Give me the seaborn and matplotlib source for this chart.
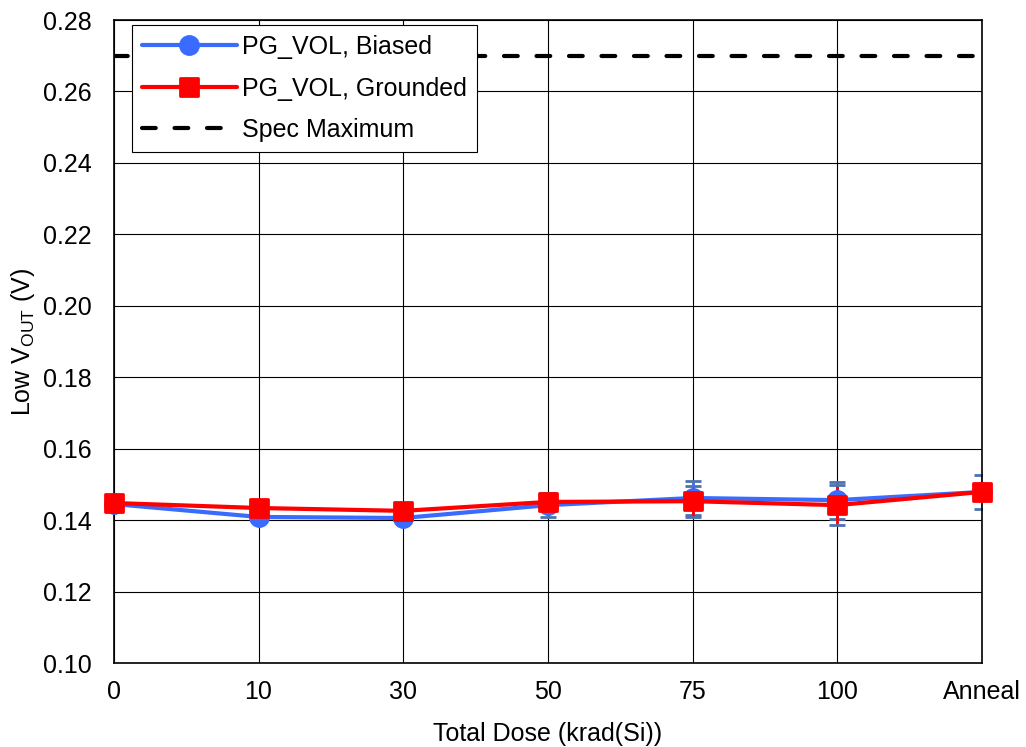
import pandas as pd
import seaborn as sns
import numpy as np
import matplotlib.pyplot as plt
from matplotlib.markers import MarkerStyle

# Data
doses = ["0", "10", "30", "50", "75", "100", "Anneal"]
biased = [0.1445, 0.1409, 0.1406, 0.1442, 0.1462, 0.1456, 0.1479]
biased_err = [0.0005, 0.0005, 0.0005, 0.0033, 0.0047, 0.0052, 0.0047]
grounded = [0.1448, 0.1434, 0.1426, 0.1451, 0.1453, 0.1442, 0.1479]
grounded_err = [0.0004, 0.0004, 0.0004, 0.0025, 0.0043, 0.0056, 0.0010]
spec_max = 0.27

sns.set_theme(style="white")
plt.rcParams['font.family'] = ['Liberation Sans', 'DejaVu Sans']
plt.rcParams['mathtext.fontset'] = 'custom'
plt.rcParams['mathtext.rm'] = 'Liberation Sans'
plt.rcParams['text.color'] = 'black'
plt.rcParams['axes.labelcolor'] = 'black'
plt.rcParams['xtick.color'] = 'black'
plt.rcParams['ytick.color'] = 'black'

fs = 18
x = np.arange(len(doses))
df = pd.DataFrame({
    "x": np.concatenate([x, x]),
    "y": biased + grounded,
    "series": ["PG_VOL, Biased"] * len(x) + ["PG_VOL, Grounded"] * len(x),
})

fig = plt.figure(figsize=(10.26, 7.47), dpi=100)
ax = fig.add_axes([0.111, 0.1124, 0.846, 0.8608])

blue = "#3A6BFF"
red = "#FF0000"

ax.errorbar(x, biased, yerr=biased_err, fmt="none", ecolor=blue, elinewidth=2, capsize=5.5, capthick=2, zorder=2)
ax.errorbar(x, grounded, yerr=grounded_err, fmt="none", ecolor=red, elinewidth=2, capsize=5.5, capthick=2, zorder=2)

sq = MarkerStyle("s", joinstyle="round")
sns.lineplot(data=df, x="x", y="y", hue="series", style="series",
             palette={"PG_VOL, Biased": blue, "PG_VOL, Grounded": red},
             markers={"PG_VOL, Biased": "o", "PG_VOL, Grounded": sq},
             dashes=False, linewidth=3, markersize=13, markeredgewidth=2,
             ax=ax, zorder=3, clip_on=False)
for ln in ax.lines:
    ln.set_markeredgecolor(ln.get_color())

ax.axhline(spec_max, color="black", linestyle=(0, (3.3, 4.5)), linewidth=3,
           dash_capstyle="round", label="Spec Maximum", zorder=3)

ax.set_xlim(0, 6)
ax.set_ylim(0.10, 0.28)
ax.set_xticks(x)
ax.set_xticklabels(doses)
yt = np.arange(0.10, 0.281, 0.02)
ax.set_yticks(yt)
ax.set_yticklabels([f"{v:.2f}" for v in yt])
ax.grid(True, color="black", linewidth=0.8)
ax.tick_params(axis="y", labelsize=fs, length=0, pad=16)
ax.tick_params(axis="x", labelsize=fs, length=0, pad=12)
for s in ax.spines.values():
    s.set_color("black")
    s.set_linewidth(1.2)

ax.set_xlabel("Total Dose (krad(Si))", fontsize=fs, labelpad=13)
ax.set_ylabel(r"Low V$_{\mathrm{OUT}}$ (V)", fontsize=fs, labelpad=4)

handles, labels = ax.get_legend_handles_labels()
leg = ax.legend(handles, labels, loc="upper left", bbox_to_anchor=(0.0207, 0.9922),
                fontsize=fs, fancybox=False, framealpha=1, edgecolor="black",
                handlelength=3.8, handletextpad=0.2, labelspacing=0.7,
                borderpad=0.4, borderaxespad=0)
leg.get_frame().set_linewidth(0.8)

fig.savefig("out.png", dpi=100)
